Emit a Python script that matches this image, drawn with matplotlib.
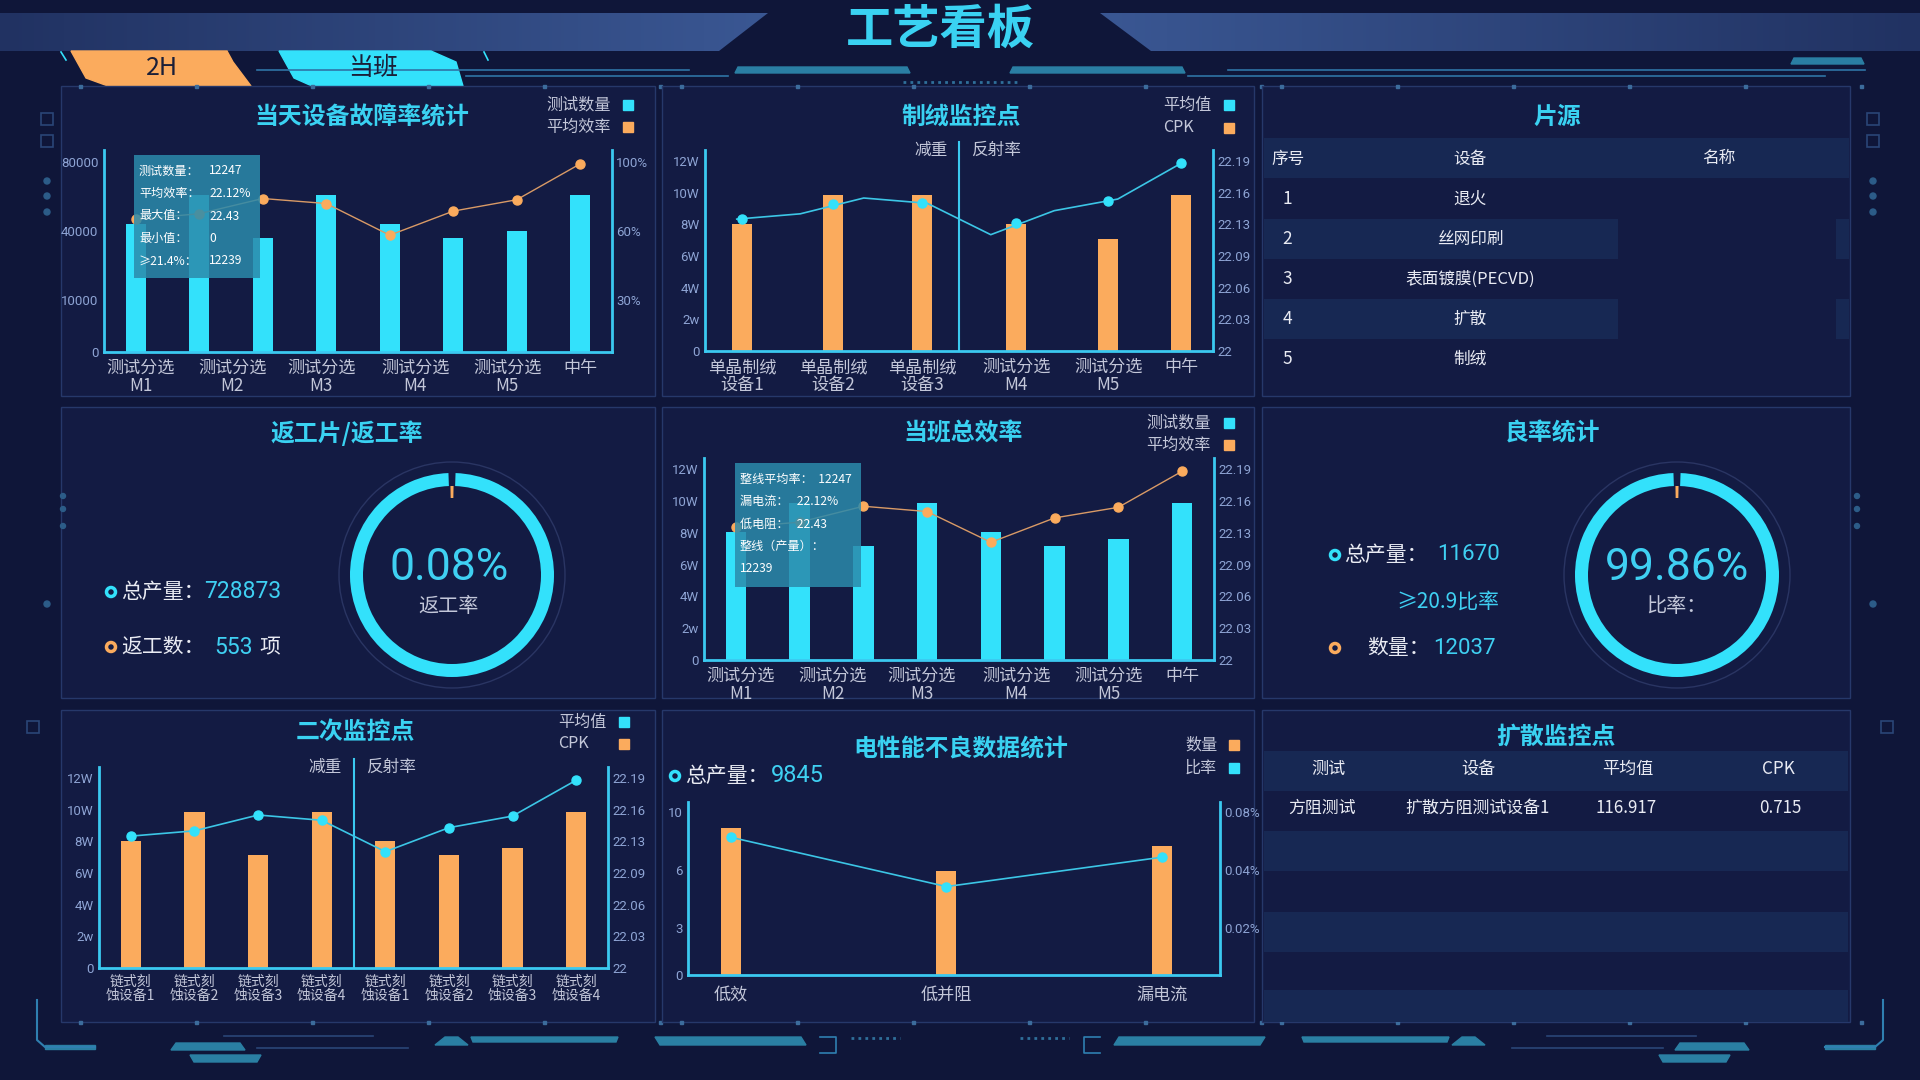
import numpy as np
import matplotlib.pyplot as plt
from matplotlib.patches import Polygon, Rectangle, Wedge, Circle
from matplotlib.colors import LinearSegmentedColormap

plt.rcParams['font.family'] = ['Noto Sans CJK SC', 'DejaVu Sans']

W, H = 1920, 1080

# colours
BG = '#0f1639'
PANEL = '#131b43'
EDGE = '#26386a'
BAND = '#172853'
CYAN = '#33e1fb'
ORANGE = '#fbab5d'
AXIS = '#3bc9f0'
TITLE = '#3ad2f2'
GREY = '#c3c7d9'
WHITE = '#e9ebf3'
TICK = '#8ea4d4'
NUMC = '#3fd0f2'
NUM = ['Roboto', 'Noto Sans CJK SC']

# ---------------- data ----------------
# 当天设备故障率统计
fault_cats = ['测试分选\nM1', '测试分选\nM2', '测试分选\nM3', '测试分选\nM4', '测试分选\nM5', '中午']
fault_count = [43900, 60700, 36700, 60700, 43900, 36700, 39900, 60700]
fault_eff = [66.6, 69.9, 78.7, 75.8, 58.1, 71.4, 78.0, 98.8]
fault_tip = [('测试数量：', '12247'), ('平均效率：', '22.12%'), ('最大值：', '22.43'),
             ('最小值：', '0'), ('≥21.4%：', '12239')]
count_ticks = [0, 10000, 40000, 80000]
count_labels = ['0', '10000', '40000', '80000']
eff_ticks = [0, 30, 60, 100]
eff_labels = ['', '30%', '60%', '100%']

# 制绒监控点
zr_cats = ['单晶制绒\n设备1', '单晶制绒\n设备2', '单晶制绒\n设备3', '测试分选\nM4', '测试分选\nM5', '中午']
zr_cpk = [80000, 98500, 98500, 80000, 71000, 98500]
zr_avg = [22.135, 22.140, 22.155, 22.150, 22.117, 22.143, 22.154, 22.188]
zr_avg_dots = [22.135, 22.149, 22.150, 22.131, 22.152, 22.188]
w_ticks = [0, 20000, 40000, 60000, 80000, 100000, 120000]
w_labels = ['0', '2w', '4W', '6W', '8W', '10W', '12W']
avg_ticks = [22, 22.03, 22.06, 22.09, 22.13, 22.16, 22.19]
avg_labels = ['22', '22.03', '22.06', '22.09', '22.13', '22.16', '22.19']

# 片源
src_head = ['序号', '设备', '名称']
src_no = ['1', '2', '3', '4', '5']
src_dev = ['退火', '丝网印刷', '表面镀膜(PECVD)', '扩散', '制绒']

# 返工片/返工率
rw_total = 728873
rw_count = 553
rw_rate = 0.08

# 当班总效率
shift_count = [80600, 98800, 71700, 98800, 80600, 71700, 76100, 98800]
shift_eff = [22.135, 22.140, 22.155, 22.150, 22.118, 22.144, 22.154, 22.188]
shift_tip = ['整线平均率：  12247', '漏电流：   22.12%', '低电阻：   22.43', '整线（产量）：', '12239']

# 良率统计
yd_total = 11670
yd_note = '≥20.9比率'
yd_count = 12037
yd_rate = 99.86

# 二次监控点
sec_cats = ['链式刻\n蚀设备1', '链式刻\n蚀设备2', '链式刻\n蚀设备3', '链式刻\n蚀设备4'] * 2
sec_cpk = [80400, 98700, 71600, 98700, 80400, 71600, 76000, 98700]
sec_avg = [22.135, 22.140, 22.155, 22.150, 22.117, 22.143, 22.154, 22.188]

# 电性能不良数据统计
ep_cats = ['低效', '低并阻', '漏电流']
ep_qty = [8.9, 5.95, 7.65]
ep_ratio = [0.0625, 0.0342, 0.0487]
ep_total = 9845
qty_ticks = [0, 3, 6, 10]
qty_labels = ['0', '3', '6', '10']
ratio_ticks = [0, 0.02, 0.04, 0.08]
ratio_labels = ['', '0.02%', '0.04%', '0.08%']

# 扩散监控点
kd_head = ['测试', '设备', '平均值', 'CPK']
kd_rows = [['方阻测试', '扩散方阻测试设备1', '116.917', '0.715']]

# ---------------- helpers ----------------
fig = plt.figure(figsize=(19.2, 10.8), dpi=100)
fig.patch.set_facecolor(BG)


def box(x, y, w, h):
    return [x / W, 1 - (y + h) / H, w / W, h / H]


def px_axes(z):
    a = fig.add_axes([0, 0, 1, 1], zorder=z)
    a.set_xlim(0, W)
    a.set_ylim(H, 0)
    a.axis('off')
    return a


def seg_scale(ticks, pos):
    # piecewise linear axis: tick values sit at evenly looking positions
    t = np.asarray(ticks, float)
    p = np.asarray(pos, float)
    t = np.concatenate([[t[0] - 10 * (t[1] - t[0])], t, [t[-1] + 10 * (t[-1] - t[-2])]])
    p = np.concatenate([[p[0] - 10 * (p[1] - p[0])], p, [p[-1] + 10 * (p[-1] - p[-2])]])
    return (lambda v: np.interp(v, t, p), lambda v: np.interp(v, p, t))


def make_chart(l, t, r, b):
    ax = fig.add_axes(box(l, t, r - l, b - t))
    ax2 = ax.twinx()
    for a in (ax, ax2):
        a.set_facecolor('none')
        for s in a.spines.values():
            s.set_visible(False)
        a.tick_params(length=0)
    for s in (ax.spines['left'], ax.spines['bottom'], ax2.spines['right']):
        s.set_visible(True)
        s.set_color(AXIS)
        s.set_linewidth(2)
    ax.tick_params(axis='y', colors=TICK, labelsize=9.5, pad=4)
    ax2.tick_params(axis='y', colors=TICK, labelsize=9.5, pad=3)
    ax.tick_params(axis='x', colors=GREY, pad=5)
    return ax, ax2


def finish_ticks(ax, ax2, xsize=12.3):
    for lbl in ax.get_yticklabels() + ax2.get_yticklabels():
        lbl.set_fontfamily(NUM)
    for lbl in ax.get_xticklabels():
        lbl.set_linespacing(1.0)
        lbl.set_fontsize(xsize)


bg = px_axes(-1)
top = px_axes(5)


def legend(items, xt, xs, y0, dy):
    for i, (name, col) in enumerate(items):
        y = y0 + i * dy
        bg.text(xt, y, name, color=GREY, fontsize=11.6, ha='left', va='center')
        bg.add_patch(Rectangle((xs - 5, y - 5), 10, 10, color=col))


def ring(cx, cy, minor):
    bg.add_patch(Circle((cx, cy), 113, fill=False, ec='#2a3563', lw=1))
    span = max(360 * minor / 100, 2.0)
    bg.add_patch(Wedge((cx, cy), 102, 270 + span / 2 + 1, 270 - span / 2 - 1 + 360,
                       width=13, color=CYAN, lw=0))
    bg.add_patch(Wedge((cx, cy), 89, 270 - span / 2, 270 + span / 2, width=12, color=ORANGE, lw=0))


def marker(x, y, col):
    bg.add_patch(Circle((x, y), 4.5, fill=False, ec=col, lw=2.5))


# ---------------- header ----------------
grad = np.linspace(0, 1, 256).reshape(1, -1)
band_l = LinearSegmentedColormap.from_list('bl', ['#213262', '#3a5793'])
band_r = LinearSegmentedColormap.from_list('br', ['#3a5793', '#213262'])
pl = Polygon([(0, 13), (768, 13), (719, 51), (0, 51)], fc='none', ec='none')
pr = Polygon([(1100, 13), (1920, 13), (1920, 51), (1151, 51)], fc='none', ec='none')
bg.add_patch(pl)
bg.add_patch(pr)
im = bg.imshow(grad, cmap=band_l, extent=[0, 768, 51, 13], aspect='auto')
im.set_clip_path(pl)
im = bg.imshow(grad, cmap=band_r, extent=[1100, 1920, 51, 13], aspect='auto')
im.set_clip_path(pr)
bg.text(940, 30, '工艺看板', color=TITLE, fontsize=34, fontweight='bold', ha='center', va='center')

bg.add_patch(Polygon([(71, 51), (227, 51), (233, 62), (251, 86), (108, 86), (86, 78)], color=ORANGE))
bg.add_patch(Polygon([(279, 51), (431, 51), (456, 62), (463, 86), (312, 86), (294, 78)], color=CYAN))
bg.text(162, 68, '2H', color='#1b1f38', fontsize=18, ha='center', va='center')
bg.text(373, 68, '当班', color='#1b1f38', fontsize=18, ha='center', va='center')
for xs in [(61, 66), (484, 488)]:
    bg.plot(xs, (52, 60), color=CYAN, lw=1.2)

line_c = '#2f74a6'
bg.plot([257, 689], [70, 70], color=line_c, lw=1.2)
bg.plot([466, 728], [76, 76], color=line_c, lw=1.2)
bg.plot([1228, 1865], [70, 70], color=line_c, lw=1.2)
bg.plot([1188, 1825], [76, 76], color=line_c, lw=1.2)
bg.add_patch(Polygon([(738, 67), (907, 67), (910, 73), (735, 73)], color='#2a7ea3'))
bg.add_patch(Polygon([(1013, 67), (1182, 67), (1185, 73), (1010, 73)], color='#2a7ea3'))
bg.add_patch(Polygon([(1794, 58), (1861, 58), (1864, 64), (1791, 64)], color='#2a7ea3'))
bg.plot([903, 1017], [82, 82], color='#2f6f9a', lw=2, ls=(0, (1, 1.5)))

# ---------------- panels ----------------
cols = [(61, 655), (662, 1254), (1262, 1850)]
rows = [(86, 396), (407, 698), (710, 1022)]
for (l, r) in cols:
    for (t, b) in rows:
        bg.add_patch(Rectangle((l, t), r - l, b - t, fc=PANEL, ec=EDGE, lw=1))
    for k in range(6):
        bg.add_patch(Rectangle((l + 18 + k * 116, rows[0][0] - 1.5), 3, 3, color='#3c6c9c'))
        bg.add_patch(Rectangle((l + 18 + k * 116, rows[2][1] - 1.5), 3, 3, color='#3c6c9c'))

titles = [('当天设备故障率统计', 362, 117), ('制绒监控点', 961, 117), ('片源', 1557, 117),
          ('返工片/返工率', 347, 433), ('当班总效率', 963, 433), ('良率统计', 1552, 433),
          ('二次监控点', 355, 732), ('电性能不良数据统计', 961, 748), ('扩散监控点', 1556, 737)]
for txt, x, y in titles:
    bg.text(x, y, txt, color=TITLE, fontsize=17.2, fontweight='bold', ha='center', va='center')

XT = [0.08, 1.52, 2.92, 4.4, 5.85, 7.0]
x8 = np.arange(8)

# --- 当天设备故障率统计
ax, ax2 = make_chart(104, 150, 612, 352)
pos4 = [0, 0.275, 0.637, 1.0]
ax.set_yscale('function', functions=seg_scale(count_ticks, pos4))
ax.bar(x8, fault_count, width=0.32, color=CYAN)
ax.set_ylim(0, 86800)
ax.set_yticks(count_ticks, count_labels)
ax.set_xlim(-0.5, 7.5)
ax.set_xticks(XT, fault_cats)
ax2.set_yscale('function', functions=seg_scale(eff_ticks, pos4))
ax2.plot(x8, fault_eff, color='#d99a66', lw=1, marker='o', ms=6.5, mfc=ORANGE, mec=ORANGE)
ax2.set_ylim(0, 106.8)
ax2.set_yticks(eff_ticks, eff_labels)
finish_ticks(ax, ax2)
legend([('测试数量', CYAN), ('平均效率', ORANGE)], 546, 628, 105, 22)
top.add_patch(Rectangle((134, 155), 126, 123, color='#2b8aab', alpha=0.85, lw=0))
for i, (k, v) in enumerate(fault_tip):
    top.text(139, 171 + 22.5 * i, k, color='white', fontsize=8.7, va='center')
    top.text(209, 171 + 22.5 * i, v, color='white', fontsize=8.7, va='center')

# --- 制绒监控点
ax, ax2 = make_chart(705, 150, 1213, 351)
ax.bar(XT, zr_cpk, width=0.32, color=ORANGE)
ax.set_ylim(0, 127000)
ax.set_yticks(w_ticks, w_labels)
ax.set_xlim(-0.5, 7.5)
ax.set_xticks(XT, zr_cats)
ax.axvline(3.5, 0, 1.04, color=AXIS, lw=1.5, clip_on=False)
ax2.set_yscale('function', functions=seg_scale(avg_ticks, range(7)))
ax2.plot(x8, zr_avg, color='#3cc6e6', lw=1.2)
ax2.plot(XT, zr_avg_dots, ls='none', marker='o', ms=6.5, color=CYAN)
ax2.set_ylim(22, 22.2005)
ax2.set_yticks(avg_ticks, avg_labels)
finish_ticks(ax, ax2)
legend([('平均值', CYAN), ('CPK', ORANGE)], 1163, 1229, 105, 23)
bg.text(931, 150, '减重', color=GREY, fontsize=12, ha='center', va='center')
bg.text(996, 150, '反射率', color=GREY, fontsize=12, ha='center', va='center')

# --- 片源 table
bg.add_patch(Rectangle((1264, 138), 585, 40, color=BAND, lw=0))
for y in (219, 299):
    bg.add_patch(Rectangle((1264, y), 354, 40, color=BAND, lw=0))
    bg.add_patch(Rectangle((1836, y), 13, 40, color=BAND, lw=0))
for txt, x in zip(src_head, [1288, 1470, 1719]):
    bg.text(x, 159, txt, color=WHITE, fontsize=12, ha='center', va='center')
for i, (n, d) in enumerate(zip(src_no, src_dev)):
    y = 199 + 40 * i
    bg.text(1287, y, n, color=WHITE, fontsize=12.5, ha='center', va='center')
    bg.text(1470, y, d, color=WHITE, fontsize=12, ha='center', va='center')

# --- 返工片/返工率
ring(452, 575, rw_rate)
bg.text(449, 568, f'{rw_rate:.2f}%', color=NUMC, fontsize=32, family=NUM, ha='center', va='center')
bg.text(449, 607, '返工率', color=GREY, fontsize=14.5, ha='center', va='center')
marker(111, 592, CYAN)
bg.text(121, 592, '总产量：', color=WHITE, fontsize=15, ha='left', va='center')
bg.text(204, 592, f'{rw_total}', color=NUMC, fontsize=16.5, family=NUM, ha='left', va='center')
marker(111, 647, ORANGE)
bg.text(121, 647, '返工数：', color=WHITE, fontsize=15, ha='left', va='center')
bg.text(214, 647, f'{rw_count}', color=NUMC, fontsize=16.5, family=NUM, ha='left', va='center')
bg.text(259, 647, '项', color=WHITE, fontsize=15, ha='left', va='center')

# --- 当班总效率
ax, ax2 = make_chart(704, 458, 1214, 660)
ax.bar(x8, shift_count, width=0.32, color=CYAN)
ax.set_ylim(0, 127000)
ax.set_yticks(w_ticks, w_labels)
ax.set_xlim(-0.5, 7.5)
ax.set_xticks(XT, fault_cats)
ax2.set_yscale('function', functions=seg_scale(avg_ticks, range(7)))
ax2.plot(x8, shift_eff, color='#d99a66', lw=1, marker='o', ms=6.5, mfc=ORANGE, mec=ORANGE)
ax2.set_ylim(22, 22.2005)
ax2.set_yticks(avg_ticks, avg_labels)
finish_ticks(ax, ax2)
legend([('测试数量', CYAN), ('平均效率', ORANGE)], 1146, 1229, 423, 22)
top.add_patch(Rectangle((735, 463), 126, 124, color='#2b8aab', alpha=0.85, lw=0))
for i, s in enumerate(shift_tip):
    top.text(740, 479 + 22.5 * i, s, color='white', fontsize=8.7, va='center')

# --- 良率统计
ring(1677, 575, 100 - yd_rate)
bg.text(1677, 568, f'{yd_rate:.2f}%', color=NUMC, fontsize=32, family=NUM, ha='center', va='center')
bg.text(1676, 607, '比率：', color=GREY, fontsize=14.5, ha='center', va='center')
marker(1335, 555, CYAN)
bg.text(1344, 555, '总产量：', color=WHITE, fontsize=15, ha='left', va='center')
bg.text(1437, 555, f'{yd_total}', color=NUMC, fontsize=16, family=NUM, ha='left', va='center')
bg.text(1396, 602, yd_note, color=NUMC, fontsize=15, ha='left', va='center')
marker(1335, 648, ORANGE)
bg.text(1367, 648, '数量：', color=WHITE, fontsize=15, ha='left', va='center')
bg.text(1433, 648, f'{yd_count}', color=NUMC, fontsize=16, family=NUM, ha='left', va='center')

# --- 二次监控点
ax, ax2 = make_chart(99, 767, 608, 968)
ax.bar(x8, sec_cpk, width=0.32, color=ORANGE)
ax.set_ylim(0, 127000)
ax.set_yticks(w_ticks, w_labels)
ax.set_xlim(-0.5, 7.5)
ax.set_xticks(x8, sec_cats)
ax.axvline(3.5, 0, 1.04, color=AXIS, lw=1.5, clip_on=False)
ax2.set_yscale('function', functions=seg_scale(avg_ticks, range(7)))
ax2.plot(x8, sec_avg, color='#3cc6e6', lw=1.2, marker='o', ms=6.5, mfc=CYAN, mec=CYAN)
ax2.set_ylim(22, 22.2005)
ax2.set_yticks(avg_ticks, avg_labels)
finish_ticks(ax, ax2, xsize=10)
legend([('平均值', CYAN), ('CPK', ORANGE)], 558, 624, 722, 22)
bg.text(325, 767, '减重', color=GREY, fontsize=12, ha='center', va='center')
bg.text(391, 767, '反射率', color=GREY, fontsize=12, ha='center', va='center')

# --- 电性能不良数据统计
ax, ax2 = make_chart(688, 802, 1220, 975)
pos_ep = [0, 0.29, 0.646, 1.0]
ax.set_yscale('function', functions=seg_scale(qty_ticks, pos_ep))
x3 = np.arange(3)
ax.bar(x3, ep_qty, width=0.093, color=ORANGE)
ax.set_ylim(0, 10.7)
ax.set_yticks(qty_ticks, qty_labels)
ax.set_xlim(-0.2, 2.27)
ax.set_xticks(x3, ep_cats)
ax.tick_params(axis='x', pad=8)
ax2.set_yscale('function', functions=seg_scale(ratio_ticks, pos_ep))
ax2.plot(x3, ep_ratio, color='#3cc6e6', lw=1.2, marker='o', ms=6.5, mfc=CYAN, mec=CYAN)
ax2.set_ylim(0, 0.087)
ax2.set_yticks(ratio_ticks, ratio_labels)
finish_ticks(ax, ax2)
legend([('数量', ORANGE), ('比率', CYAN)], 1185, 1234, 745, 23)
marker(675, 776, CYAN)
bg.text(685, 776, '总产量：', color=WHITE, fontsize=15, ha='left', va='center')
bg.text(771, 776, f'{ep_total}', color=NUMC, fontsize=17, family=NUM, ha='left', va='center')

# --- 扩散监控点 table
bg.add_patch(Rectangle((1264, 751), 584, 40, color=BAND, lw=0))
for y in (831, 912, 990):
    bg.add_patch(Rectangle((1264, y), 584, 40 if y < 990 else 32, color=BAND, lw=0))
for txt, x in zip(kd_head, [1328, 1478, 1628, 1778]):
    bg.text(x, 769, txt, color=WHITE, fontsize=12.3, ha='center', va='center')
for i, row in enumerate(kd_rows):
    for txt, x in zip(row, [1322, 1478, 1626, 1780]):
        bg.text(x, 808 + 40 * i, txt, color=WHITE, fontsize=12.2, ha='center', va='center')

# ---------------- side & footer decoration ----------------
DEC = '#2a7fa3'
DIM = '#2a4677'


def mirror(pts):
    return [(W - x, y) for x, y in pts]


foot_shapes = [
    [(176, 1043), (240, 1043), (245, 1050), (171, 1050)],
    [(190, 1055), (261, 1055), (257, 1062), (194, 1062)],
    [(445, 1037), (458, 1037), (468, 1045), (435, 1045)],
    [(471, 1037), (618, 1037), (616, 1042), (473, 1042)],
    [(655, 1037), (801, 1037), (806, 1045), (660, 1045)],
    [(45, 1045), (95, 1045), (95, 1049), (45, 1049)],
]
for pts in foot_shapes:
    bg.add_patch(Polygon(pts, color=DEC))
    bg.add_patch(Polygon(mirror(pts), color=DEC))
for xs, ys, c, lw in [([37, 37, 45, 95], [1000, 1040, 1047, 1047], '#2f7fb0', 1.5),
                      ([224, 373], [1036, 1036], DIM, 1.2),
                      ([257, 408], [1048, 1048], DIM, 1.2),
                      ([820, 836, 836, 820], [1037, 1037, 1053, 1053], '#2f7fb0', 1.2)]:
    bg.plot(xs, ys, color=c, lw=lw)
    bg.plot([W - x for x in xs], ys, color=c, lw=lw)
bg.plot([851, 900], [1038, 1038], color='#2f6f9a', lw=2, ls=(0, (1, 1.5)))
bg.plot([1020, 1069], [1038, 1038], color='#2f6f9a', lw=2, ls=(0, (1, 1.5)))

for x in (47, W - 47):
    for y in (119, 141):
        bg.add_patch(Rectangle((x - 6, y - 6), 12, 12, fill=False, ec=DIM, lw=1.2))
    for y in (181, 196, 212):
        bg.add_patch(Circle((x, y), 3, color='#2c5c88'))
    bg.add_patch(Circle((x, 604), 3, color='#2c5c88'))
for x in (33, W - 33):
    bg.add_patch(Rectangle((x - 6, 721), 12, 12, fill=False, ec=DIM, lw=1.2))
for x in (63, 1857):
    for y in (496, 509, 526):
        bg.add_patch(Circle((x, y), 2.5, color='#2c5c88'))

bg.set_xlim(0, W)
bg.set_ylim(H, 0)

fig.savefig('out.png', dpi=100, facecolor=BG)
